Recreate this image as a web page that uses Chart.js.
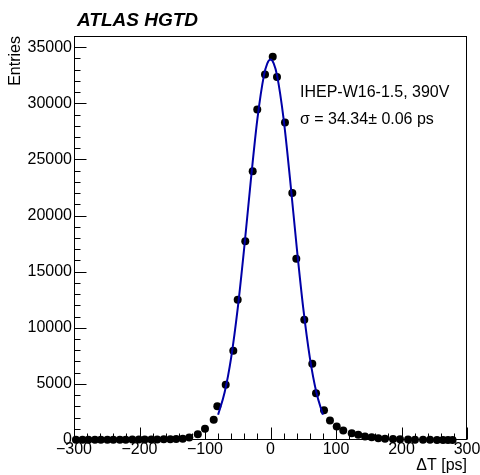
<!DOCTYPE html>
<html>
<head>
<meta charset="utf-8">
<script src="https://cdn.jsdelivr.net/npm/chart.js@4.4.0/dist/chart.umd.min.js"></script>
<style>
    html, body { margin: 0; padding: 0; background: #fff; }
</style>
</head>
<body>
<canvas id="chart" width="480" height="475"></canvas>
<script>
// Measured Delta T distribution (points) and the gaussian fit (line)
const pointX = [
    -297, -287, -278, -268, -259, -249, -240, -230, -221, -211, -201, -192,
    -182, -173, -163, -153, -144, -134, -124, -111, -100,
    -86.7, -81.2, -68.4, -56.8, -50.1, -38.5, -27.2, -20.2, -8.4, 3.4,
    9.9, 22.1, 33.3, 39.4, 51.6, 63.8, 69.5, 81.7, 90.8,
    101.1, 111.1, 124, 134, 144.3, 154.5, 164.6, 174.8, 187, 197.7,
    210, 220.6, 232.8, 243.5, 254.2, 263.4, 271, 278
];
const pointY = [
    20, 20, 20, 30, 20, 30, 30, 30, 30, 40, 40, 40,
    50, 50, 60, 70, 90, 120, 230, 520, 1000,
    1800, 3010, 4920, 7950, 12500, 17700, 23940, 29450, 32570, 34140,
    32350, 28290, 22010, 16160, 10720, 6800, 4170, 2660, 1740,
    1200, 850, 600, 460, 310, 250, 160, 110, 80, 60,
    40, 30, 20, 20, 10, 10, 10, 10
];

const fitX = [-80, -70, -60, -50, -40, -30, -20, -10, -5, 0, 5, 10, 20, 30, 40, 50, 60, 70, 80];
const fitY = [2250, 4250, 7370, 11750, 17200, 23150, 28610, 32490, 33540, 33900,
              33540, 32490, 28610, 23150, 17200, 11750, 7370, 4250, 2250];

const xMajorStep = 100;
const yMajorStep = 5000;

const atlasLabel = 'ATLAS HGTD';
const sampleLabel = 'IHEP-W16-1.5, 390V';
const sigmaLabel = 'σ = 34.34± 0.06 ps';

const FONT = '"Liberation Sans", Arial, Helvetica, sans-serif';
Chart.defaults.font.family = FONT;
Chart.defaults.color = '#000';

function toXY(xs, ys) {
    return xs.map((x, i) => ({ x: x, y: ys[i] }));
}

function fmtTick(v) {
    return v < 0 ? '\u2212' + Math.abs(v) : String(v);
}

// box around the plot plus inward ticks (ROOT style)
const framePlugin = {
    id: 'frame',
    beforeDatasetsDraw(chart) {
        const { ctx, chartArea: a, scales } = chart;
        const left = Math.round(a.left) + 0.5;
        const bottom = Math.round(a.bottom) - 0.5;
        ctx.save();
        ctx.strokeStyle = '#000';
        ctx.lineWidth = 1;
        ctx.strokeRect(left, Math.round(a.top) + 0.5, Math.round(a.right - a.left) - 1, Math.round(a.bottom - a.top) - 1);
        ctx.beginPath();
        scales.y.ticks.forEach(t => {
            const py = Math.round(scales.y.getPixelForValue(t.value)) + 0.5;
            const len = t.value % yMajorStep === 0 ? 12 : 6;
            ctx.moveTo(left, py);
            ctx.lineTo(left + len, py);
        });
        scales.x.ticks.forEach(t => {
            const px = Math.round(scales.x.getPixelForValue(t.value)) + 0.5;
            const len = t.value % xMajorStep === 0 ? 12 : 6;
            ctx.moveTo(px, bottom);
            ctx.lineTo(px, bottom - len);
        });
        ctx.stroke();
        ctx.restore();
    },
    afterDraw(chart) {
        const ctx = chart.ctx;
        ctx.save();
        ctx.fillStyle = '#000';
        ctx.textBaseline = 'alphabetic';
        ctx.textAlign = 'left';
        ctx.font = 'italic bold 19px ' + FONT;
        ctx.fillText(atlasLabel, 77, 26);
        ctx.font = '16px ' + FONT;
        ctx.fillText(sampleLabel, 300, 97);
        ctx.fillText(sigmaLabel, 300, 124);
        ctx.restore();
    }
};

const ctx = document.getElementById('chart').getContext('2d');
new Chart(ctx, {
    type: 'scatter',
    data: {
        datasets: [
            {
                label: 'fit',
                data: toXY(fitX, fitY),
                showLine: true,
                borderColor: '#0000a8',
                borderWidth: 2,
                pointRadius: 0,
                cubicInterpolationMode: 'monotone',
                order: 0
            },
            {
                label: 'data',
                data: toXY(pointX, pointY),
                backgroundColor: '#000',
                borderColor: '#000',
                pointRadius: 4,
                pointBorderWidth: 0,
                clip: false,
                order: 1
            }
        ]
    },
    options: {
        responsive: false,
        animation: false,
        devicePixelRatio: 1,
        layout: { padding: { left: 0, top: 36, right: 13, bottom: 0 } },
        plugins: {
            legend: { display: false },
            tooltip: { enabled: false }
        },
        scales: {
            x: {
                type: 'linear',
                min: -300,
                max: 300,
                grid: { display: false, drawTicks: false },
                border: { display: false },
                ticks: {
                    stepSize: 20,
                    autoSkip: false,
                    maxRotation: 0,
                    padding: 0,
                    font: { size: 16 },
                    callback: v => v % xMajorStep === 0 ? fmtTick(v) : ''
                },
                title: {
                    display: true,
                    text: 'ΔT [ps]',
                    align: 'end',
                    font: { size: 16 },
                    padding: { top: 0, bottom: 0 }
                },
                afterFit(scale) {
                    scale.height = 35;
                    scale.paddingLeft = 0;
                    scale.paddingRight = 0;
                }
            },
            y: {
                type: 'linear',
                min: 0,
                max: 36000,
                grid: { display: false, drawTicks: false },
                border: { display: false },
                ticks: {
                    stepSize: 1000,
                    autoSkip: false,
                    padding: 2,
                    font: { size: 16 },
                    callback: v => v % yMajorStep === 0 ? String(v) : ''
                },
                title: {
                    display: true,
                    text: 'Entries',
                    align: 'end',
                    font: { size: 16 },
                    padding: { top: 6, bottom: 0 }
                },
                afterFit(scale) {
                    scale.width = 74;
                    scale.paddingTop = 0;
                    scale.paddingBottom = 0;
                }
            }
        }
    },
    plugins: [framePlugin]
});
</script>
</body>
</html>
